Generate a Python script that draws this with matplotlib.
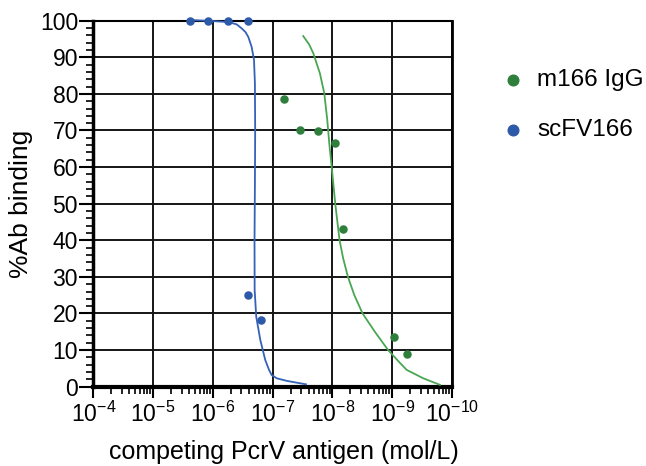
import numpy as np
import matplotlib
matplotlib.use("Agg")
import matplotlib.pyplot as plt
from matplotlib.ticker import FixedLocator, FuncFormatter, MultipleLocator

plt.rcParams['font.family'] = ['Liberation Sans', 'DejaVu Sans']
plt.rcParams['mathtext.fontset'] = 'custom'
plt.rcParams['mathtext.rm'] = 'Liberation Sans'
plt.rcParams['mathtext.default'] = 'regular'

# measured points (concentration mol/L, % binding)
igg_conc = [6.4e-8, 3.53e-8, 1.75e-8, 8.97e-9, 6.75e-9, 9.4e-10, 5.74e-10]
igg_bind = [78.5, 70.0, 69.8, 66.7, 43.2, 13.5, 8.9]

scfv_conc = [2.42e-6, 1.19e-6, 5.66e-7, 2.59e-7, 2.56e-7, 1.59e-7]
scfv_bind = [99.8, 99.8, 99.8, 99.8, 25.1, 18.1]

# fitted curves
igg_fit_conc = [3.08e-8, 2.45e-8, 2.09e-8, 1.62e-8, 1.37e-8, 1.22e-8, 1.13e-8,
                1.03e-8, 8.97e-9, 7.6e-9, 6.6e-9, 5.5e-9, 4.3e-9, 3.13e-9,
                1.95e-9, 1.17e-9, 7.43e-10, 5.74e-10, 3.03e-10, 1.59e-10]
igg_fit_bind = [95.8, 93.5, 91.1, 85.6, 80.2, 72.9, 66.5, 60.1, 50.0, 40.0,
                35.0, 30.0, 25.0, 20.0, 15.0, 10.0, 6.5, 4.6, 2.3, 0.5]

scfv_fit_conc = [2.42e-6, 9.85e-7, 6.5e-7, 5.18e-7, 4.0e-7, 3.30e-7, 2.85e-7,
                 2.56e-7, 2.25e-7, 2.05e-7, 1.98e-7, 1.96e-7, 1.98e-7, 2.01e-7,
                 2.0e-7, 1.88e-7, 1.61e-7, 1.33e-7, 1.15e-7, 1.04e-7, 8.57e-8,
                 5.83e-8, 3.97e-8, 2.77e-8]
scfv_fit_bind = [100.2, 99.9, 99.7, 99.5, 99.0, 97.9, 96.9, 95.6, 92.9, 89.3,
                 82.9, 70.0, 55.0, 40.0, 26.4, 19.1, 12.8, 7.3, 4.6, 3.2, 2.3,
                 1.6, 1.1, 0.65]

decades = [-4, -5, -6, -7, -8, -9, -10]

fig = plt.figure(figsize=(6.46, 4.66), dpi=100)
ax = fig.add_axes([0.1444, 0.1702, 0.5553, 0.7854])

ax.plot(scfv_fit_conc, scfv_fit_bind, color='#3462b8', lw=1.3, clip_on=False, zorder=3)
ax.plot(igg_fit_conc, igg_fit_bind, color='#4aa653', lw=1.3, clip_on=False, zorder=3)
ax.scatter(igg_conc, igg_bind, s=26, color='#2f7f3c', label='m166 IgG', clip_on=False, zorder=4)
ax.scatter(scfv_conc, scfv_bind, s=26, color='#2d5aa8', label='scFV166', clip_on=False, zorder=4)

ax.set_xscale('log')
ax.set_xlim(1e-4, 1e-10)
ax.set_ylim(0, 100)

ax.xaxis.set_major_locator(FixedLocator([10.0 ** d for d in decades]))
minor = [10.0 ** (d + 1) / k for d in range(-10, -4) for k in range(2, 10)]
ax.xaxis.set_minor_locator(FixedLocator(minor))
ax.xaxis.set_major_formatter(FuncFormatter(lambda v, p: "$10^{%d}$" % round(np.log10(v))))
ax.xaxis.set_minor_formatter(FuncFormatter(lambda v, p: ""))

ax.yaxis.set_major_locator(MultipleLocator(10))
ax.yaxis.set_minor_locator(MultipleLocator(2))

ax.grid(which='major', color='#151515', lw=1.4)
ax.set_axisbelow(True)

ax.tick_params(axis='x', which='major', length=8, width=1.5, labelsize=16.5, pad=3)
ax.tick_params(axis='x', which='minor', length=5, width=1.2)
ax.tick_params(axis='y', which='major', length=10, width=1.5, labelsize=16.5, pad=1)
ax.tick_params(axis='y', which='minor', length=5, width=1.2)

ax.spines['left'].set_linewidth(2.5)
ax.spines['bottom'].set_linewidth(3)
ax.spines['right'].set_linewidth(2)
ax.spines['top'].set_linewidth(1.5)

ax.set_xlabel('competing PcrV antigen (mol/L)', fontsize=18, labelpad=8)
ax.xaxis.set_label_coords(0.53, -0.145)
ax.set_ylabel('%Ab binding', fontsize=19, labelpad=5)

ax.legend(loc='upper left', bbox_to_anchor=(0.7753, 0.852), bbox_transform=fig.transFigure,
          frameon=False, fontsize=17.5, markerscale=1.5, handletextpad=0.49,
          labelspacing=1.15, borderpad=0, borderaxespad=0, handlelength=1.0)

fig.savefig('out.png', dpi=100)
